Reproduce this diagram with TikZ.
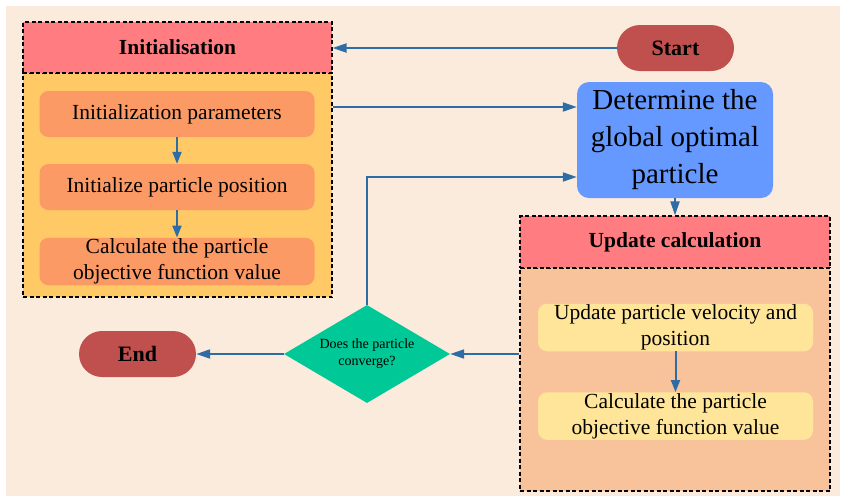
\documentclass[tikz,border=0pt]{standalone}
\usepackage{fontspec}
\setmainfont{Liberation Serif}
\usepackage{xcolor}
\usetikzlibrary{shapes.geometric, arrows.meta, positioning, calc}
\definecolor{bgcolor}{HTML}{FBEBDD}
\definecolor{headcolor}{HTML}{FF7C80}
\definecolor{initcolor}{HTML}{FFC966}
\definecolor{stepcolor}{HTML}{FB9A65}
\definecolor{termcolor}{HTML}{C0504D}
\definecolor{bestcolor}{HTML}{6699FF}
\definecolor{updcolor}{HTML}{F8C39B}
\definecolor{itemcolor}{HTML}{FFE599}
\definecolor{testcolor}{HTML}{00C896}
\definecolor{flowcolor}{HTML}{2E6CA6}

\begin{document}
\begin{tikzpicture}[x=1pt, y=-1pt,
    header/.style={rectangle, draw=black, dashed, line width=1.2pt, dash pattern=on 4pt off 2.5pt, fill=headcolor, minimum width=309pt, minimum height=51pt, font=\fontsize{21.5}{25}\selectfont\bfseries},
    panel/.style={rectangle, draw=black, dashed, line width=1.2pt, dash pattern=on 4pt off 2.5pt, fill=#1, minimum width=309pt},
    stepbox/.style={rectangle, rounded corners=9pt, fill=#1, minimum width=275pt, minimum height=46pt, inner sep=1pt, align=center, font=\fontsize{21.5}{26}\selectfont},
    terminal/.style={rectangle, rounded corners=23pt, fill=termcolor, minimum width=117pt, minimum height=46pt, font=\fontsize{22}{25}\selectfont\bfseries},
    decision/.style={diamond, aspect=1.7, fill=testcolor, minimum width=166pt, minimum height=98pt, inner sep=0pt, align=center, font=\fontsize{14}{17}\selectfont},
    arrow/.style={-{Triangle[length=14pt, width=9pt]}, line width=2pt, flowcolor},
    shortarrow/.style={-{Triangle[length=12pt, width=9pt]}, line width=2pt, flowcolor}
]
% page and background
\useasboundingbox (0,0) rectangle (846,499);
\fill[bgcolor] (6,6) rectangle (840,496);

% initialisation block
\node[panel=initcolor, minimum height=224pt] (initbody) at (177.5,185) {};
\node[header] (inithead) at (177.5,47.5) {Initialisation};
\node[stepbox=stepcolor] (initpar) at (177,114) {Initialization parameters};
\node[stepbox=stepcolor] (initpos) at (177,187) {Initialize particle position};
\node[stepbox=stepcolor] (initfit) at (177,261.5) {Calculate the particle\\objective function value};
\draw[shortarrow] (initpar) -- (initpos);
\draw[shortarrow] (initpos) -- (initfit);

% start / end
\node[terminal] (start) at (675.5,48) {Start};
\node[terminal] (finish) at (137.5,354) {End};

% global best
\node[rectangle, rounded corners=12pt, fill=bestcolor, minimum width=196pt, minimum height=116pt, align=center, font=\fontsize{29}{37}\selectfont] (gbest) at (675,140) {Determine the\\global optimal\\particle};

% update block
\node[panel=updcolor, minimum height=223pt, minimum width=310pt] (updbody) at (675,379.5) {};
\node[header, minimum width=310pt, minimum height=52pt] (updhead) at (675,242) {Update calculation};
\node[stepbox=itemcolor, minimum height=47pt] (updvel) at (675.5,327.5) {Update particle velocity and\\position};
\node[stepbox=itemcolor] (updfit) at (675.5,416) {Calculate the particle\\objective function value};
\draw[shortarrow] (updvel) -- (updfit);

% convergence test
\node[decision] (conv) at (367,354) {Does the particle\\converge?};

% connectors
\draw[arrow] (start) -- (start -| inithead.east);
\draw[arrow] (initbody.east |- 0,107) -- (gbest.west |- 0,107);
\draw[arrow] (gbest) -- (updhead);
\draw[arrow] (updbody.west |- conv) -- (conv);
\draw[arrow] (conv) -- (finish);
\draw[arrow] (conv.north) |- (gbest.west |- 0,177);
\end{tikzpicture}
\end{document}
